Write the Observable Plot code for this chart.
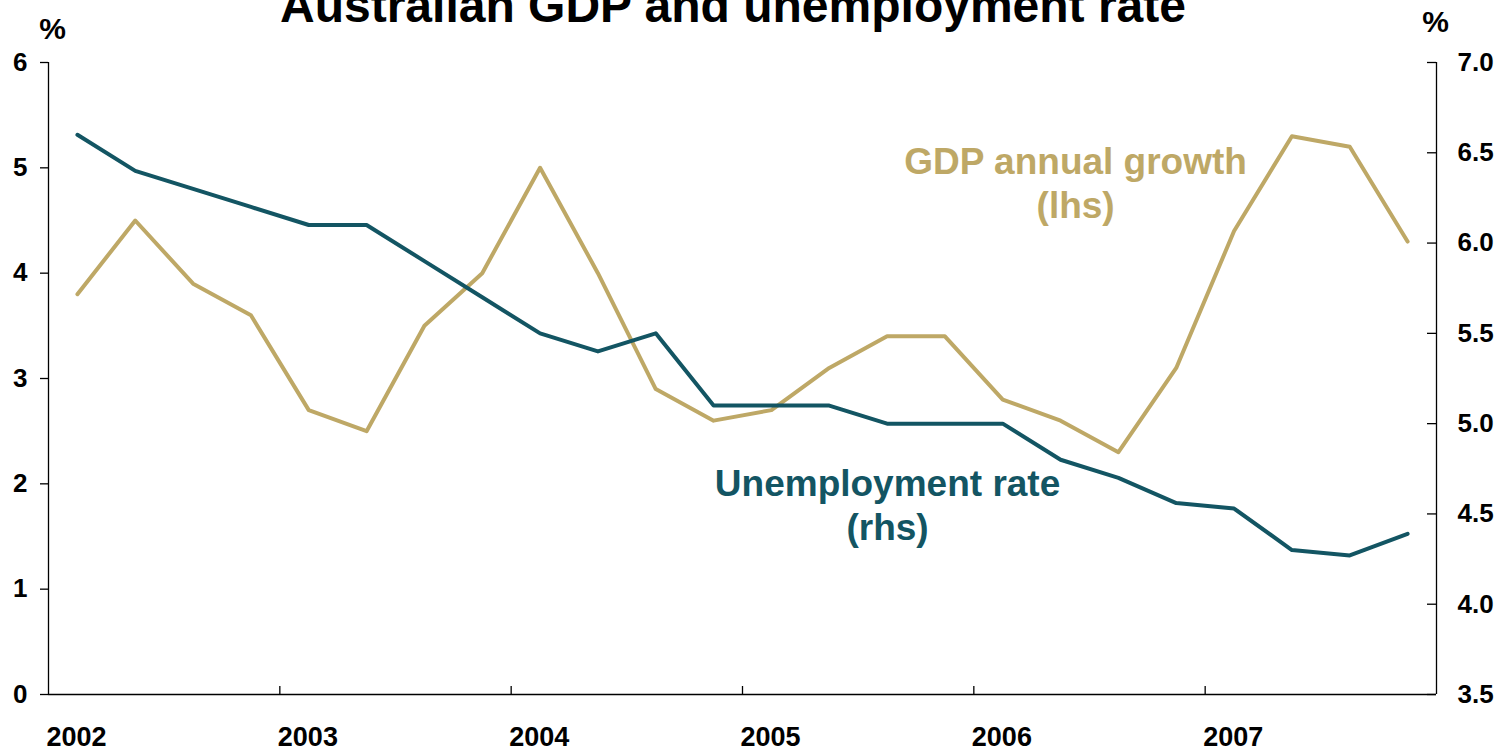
<!DOCTYPE html>
<html><head><meta charset="utf-8">
<script src="https://cdn.jsdelivr.net/npm/d3@7"></script>
<script src="https://cdn.jsdelivr.net/npm/@observablehq/plot@0.6"></script>
<style>
body{margin:0;background:#fff;overflow:hidden;font-family:"Liberation Sans",Arial,sans-serif;}
#wrap{position:relative;width:1506px;height:749px;overflow:hidden;}
#title{position:absolute;left:0;width:1466px;top:-18px;text-align:center;font-size:48px;font-weight:bold;line-height:48px;color:#000;white-space:nowrap;z-index:2;}
#chart{position:absolute;left:0;top:0;}
</style></head><body>
<div id="wrap"><div id="title">Australian GDP and unemployment rate</div><div id="chart"></div></div>
<script>
// ---- data ----
const quarters = ["2002Q1","2002Q2","2002Q3","2002Q4","2003Q1","2003Q2","2003Q3","2003Q4",
                  "2004Q1","2004Q2","2004Q3","2004Q4","2005Q1","2005Q2","2005Q3","2005Q4",
                  "2006Q1","2006Q2","2006Q3","2006Q4","2007Q1","2007Q2","2007Q3","2007Q4"];
const gdpGrowth = [3.8,4.5,3.9,3.6,2.7,2.5,3.5,4.0,5.0,4.0,2.9,2.6,2.7,3.1,3.4,3.4,2.8,2.6,2.3,3.1,4.4,5.3,5.2,4.3];
const unemployment = [6.6,6.4,6.3,6.2,6.1,6.1,5.9,5.7,5.5,5.4,5.5,5.1,5.1,5.1,5.0,5.0,5.0,4.8,4.7,4.56,4.53,4.3,4.27,4.39];
const yearTicks = [2002,2003,2004,2005,2006,2007];
const yearLabels = ["2002","2003","2004","2005","2006","2007"];
const lhsTicks = [0,1,2,3,4,5,6];
const rhsTicks = [3.5,4.0,4.5,5.0,5.5,6.0,6.5,7.0];
const rhsLabels = ["3.5","4.0","4.5","5.0","5.5","6.0","6.5","7.0"];
const gdpLabel = "GDP annual growth\n(lhs)";
const unLabel = "Unemployment rate\n(rhs)";

// ---- scales ----
const xDomain = [2002, 2008];
const lhsDomain = [0, 6];
const rhsDomain = [3.5, 7.0];
const toL = v => (v - rhsDomain[0]) / (rhsDomain[1] - rhsDomain[0]) * (lhsDomain[1] - lhsDomain[0]) + lhsDomain[0];
const qx = q => +q.slice(0, 4) + (+q.slice(5) - 0.5) / 4;
const gdpData = quarters.map((q, i) => ({x: qx(q), y: gdpGrowth[i]}));
const unData = quarters.map((q, i) => ({x: qx(q), y: toL(unemployment[i])}));
const rhsPos = rhsTicks.map(toL);

const GOLD = "#BEA866";
const TEAL = "#135563";
const W = 1506, H = 749;
const mL = 48, mR = 70, mT = 62, mB = 55;
const plotW = W - mL - mR, plotH = H - mT - mB;

const chart = Plot.plot({
  width: W, height: H,
  marginLeft: mL, marginRight: mR, marginTop: mT, marginBottom: mB,
  style: {fontFamily: "Liberation Sans, Arial, sans-serif", color: "#000", background: "#fff", overflow: "visible"},
  x: {domain: xDomain, axis: null},
  y: {domain: lhsDomain, axis: null},
  marks: [
    Plot.ruleX(xDomain, {stroke: "#000", strokeWidth: 1.3}),
    Plot.ruleY([lhsDomain[0]], {stroke: "#000", strokeWidth: 1.3}),
    Plot.tickX(yearTicks.slice(1), {x: d => d, stroke: "#000", strokeWidth: 1.3, insetTop: plotH - 8}),
    Plot.tickY(rhsPos, {y: d => d, stroke: "#000", strokeWidth: 1.3, insetLeft: plotW - 9}),
    Plot.axisY({anchor: "left", ticks: lhsTicks, tickSize: 8, tickPadding: 13, label: null,
      fontSize: 26, fontWeight: "bold", strokeWidth: 1.3, tickFormat: d => String(d)}),
    Plot.axisY({anchor: "right", ticks: rhsPos, tickSize: 0, tickPadding: 21, label: null,
      fontSize: 26, fontWeight: "bold",
      tickFormat: d => rhsLabels[rhsPos.findIndex(t => Math.abs(t - d) < 1e-9)]}),
    Plot.axisX({anchor: "bottom", ticks: yearTicks, tickSize: 0, tickPadding: 32, label: null,
      fontSize: 27, fontWeight: "bold", textAnchor: "start", dx: -2,
      tickFormat: d => yearLabels[yearTicks.indexOf(d)]}),
    Plot.lineY(gdpData, {x: "x", y: "y", stroke: GOLD, strokeWidth: 4}),
    Plot.lineY(unData, {x: "x", y: "y", stroke: TEAL, strokeWidth: 4}),
    Plot.text([gdpLabel], {x: 2006.44, y: 5.24, text: d => d, lineAnchor: "top", textAnchor: "middle",
      fill: GOLD, fontSize: 37, fontWeight: "bold", lineHeight: 44 / 37}),
    Plot.text([unLabel], {x: 2005.627, y: 2.185, text: d => d, lineAnchor: "top", textAnchor: "middle",
      fill: TEAL, fontSize: 37, fontWeight: "bold", lineHeight: 44 / 37}),
    Plot.text(["%"], {frameAnchor: "top-left", dx: 4, dy: -24, textAnchor: "middle", lineAnchor: "bottom",
      fontSize: 30, fontWeight: "bold", fill: "#000"}),
    Plot.text(["%"], {frameAnchor: "top-right", dx: -1, dy: -31, textAnchor: "middle", lineAnchor: "bottom",
      fontSize: 30, fontWeight: "bold", fill: "#000"})
  ]
});
document.getElementById("chart").appendChild(chart);
</script>
</body></html>
